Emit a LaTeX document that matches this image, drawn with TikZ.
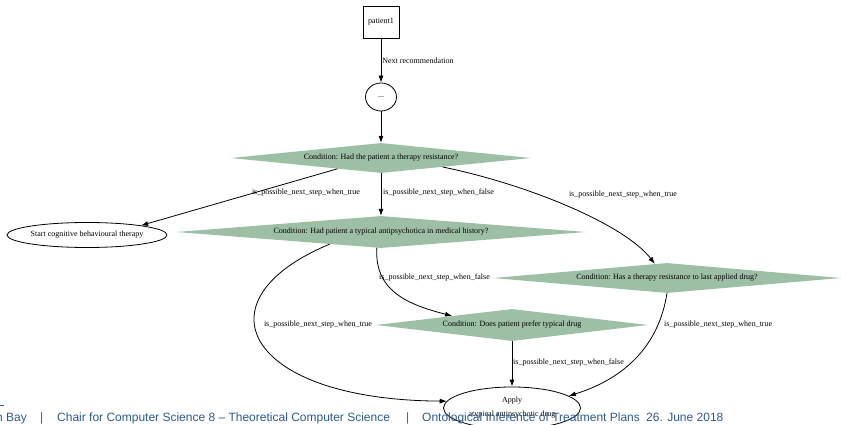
\documentclass[tikz,border=0pt]{standalone}
\usepackage{fontspec}
\setmainfont{Liberation Serif}
\newfontfamily\footfont{Liberation Sans}
\usetikzlibrary{shapes.geometric,arrows.meta,calc}
\definecolor{condfill}{RGB}{157,191,165}
\definecolor{footblue}{RGB}{43,90,140}
\begin{document}
\begin{tikzpicture}[x=1pt,y=-1pt,
  font=\fontsize{8}{9.5}\selectfont,
  cond/.style={diamond, fill=condfill, inner sep=0pt, aspect=10},
  act/.style={ellipse, draw, line width=0.8pt, inner sep=0pt},
  edge/.style={-{Latex[length=7pt,width=5pt]}, line width=0.8pt},
  lbl/.style={inner sep=0pt},
  foot/.style={text=footblue, inner sep=0pt, anchor=base west,
    font=\footfont\fontsize{12}{14}\selectfont}]
\clip (0,0) rectangle (841,425);

% graph nodes
\node[draw, line width=0.8pt, minimum width=36pt, minimum height=32pt, inner sep=0pt] (p) at (381,22) {patient1};
\node[act, minimum width=31pt, minimum height=28pt] (dots) at (381,97) {...};
\node[cond, minimum width=300pt, minimum height=30pt] (d1) at (381,158) {Condition: Had the patient a therapy resistance?};
\node[cond, minimum width=410pt, minimum height=32pt] (d2) at (381,232) {Condition: Had patient a typical antipsychotica in medical history?};
\node[cond, minimum width=348pt, minimum height=30pt] (d3) at (667,278) {Condition: Has a therapy resistance to last applied drug?};
\node[cond, minimum width=272pt, minimum height=32pt] (d4) at (512,325) {Condition: Does patient prefer typical drug};
\node[act, minimum width=160pt, minimum height=25pt] (cbt) at (87,235) {Start cognitive behavioural therapy};
\node[act, minimum width=137pt, minimum height=42pt, align=center, font=\fontsize{8}{14}\selectfont] (apply) at (512,408) {Apply\\atypical antipsychotic drug};

% connectors
\draw[edge] (p) -- (dots) node[pos=0.5, anchor=west, lbl, xshift=1pt] (l0) {Next recommendation};
\draw[edge] (dots) -- (d1);
\draw[edge] ($(d1.west)!0.71!(d1.south)$) -- (cbt.10);
\draw[edge] (d1.south) -- (d2.north);
\draw[edge] ($(d1.south)!0.41!(d1.east)$) .. controls (530,185) and (625,225) .. ($(d3.north)!0.07!(d3.west)$);
\draw[edge] ($(d2.south)!0.02!(d2.west)$) .. controls (374,292) and (410,305) .. ($(d4.north)!0.44!(d4.west)$);
\draw[edge] ($(d2.south)!0.25!(d2.west)$) .. controls (195,300) and (245,400) .. (apply.174);
\draw[edge] (d4.south) -- (apply.north);
\draw[edge] (d3.south) .. controls (658,350) and (620,380) .. (apply.12);

% edge labels
\node[lbl] (l1) at (306,193) {is\_possible\_next\_step\_when\_true};
\node[lbl, anchor=west] (l2) at (383,193) {is\_possible\_next\_step\_when\_false};
\node[lbl] (l3) at (623,195) {is\_possible\_next\_step\_when\_true};
\node[lbl, anchor=west] (l4) at (379,278) {is\_possible\_next\_step\_when\_false};
\node[lbl] (l5) at (318,325) {is\_possible\_next\_step\_when\_true};
\node[lbl, anchor=west] (l6) at (513,363) {is\_possible\_next\_step\_when\_false};
\node[lbl, anchor=west] (l7) at (664,325) {is\_possible\_next\_step\_when\_true};

% footer line of the slide
\draw[footblue, line width=0.8pt] (0,405) -- (4,405);
\node[foot, anchor=base east] (f0) at (27,421) {n Bay};
\node[foot] (f1) at (40,421) {|};
\node[foot] (f2) at (57,421) {Chair for Computer Science 8 – Theoretical Computer Science};
\node[foot] (f3) at (406,421) {|};
\node[foot] (f4) at (422,421) {Ontological Inference of Treatment Plans};
\node[foot] (f5) at (646,421) {26. June 2018};
\end{tikzpicture}
\end{document}
